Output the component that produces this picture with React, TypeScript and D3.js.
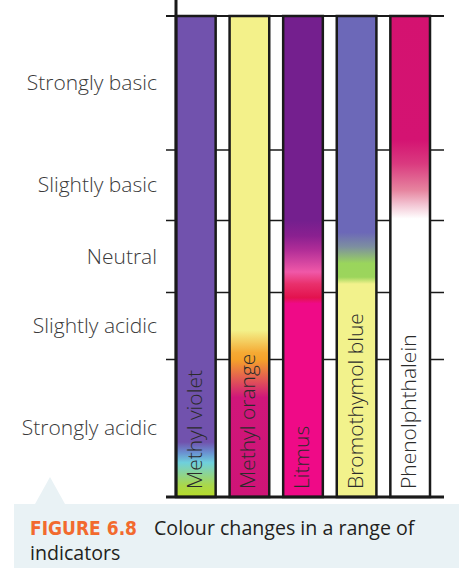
import * as d3 from "d3";
import React, { useEffect, useRef } from "react";

// pH bands, bottom to top
const bands = ["Strongly acidic", "Slightly acidic", "Neutral", "Slightly basic", "Strongly basic"];
const bandEdges = [0, 4, 5.95, 8.05, 10.1, 14];

const indicators = ["Methyl violet", "Methyl orange", "Litmus", "Bromothymol blue", "Phenolphthalein"];

// colour stops per indicator: [pH, colour]
const methylViolet: [number, string][] = [
  [0, "#b9dc28"], [0.35, "#a9d84c"], [1.0, "#6fd0dc"], [1.3, "#6a8fd0"], [1.6, "#7152ad"], [14, "#7152ad"],
];
const methylOrange: [number, string][] = [
  [0, "#cf1477"], [2.9, "#d0167a"], [4.0, "#f5a22a"], [4.2, "#f5aa34"], [4.85, "#f3f18a"], [14, "#f3f18a"],
];
const litmus: [number, string][] = [
  [0, "#ef0a87"], [5.63, "#ef0a87"], [5.8, "#e3124e"], [6.2, "#e9306c"], [6.55, "#f058a8"], [7.2, "#b02d97"],
  [7.6, "#8a2090"], [8.05, "#741f8e"], [14, "#741f8e"],
];
const bromothymol: [number, string][] = [
  [0, "#f2f28c"], [6.2, "#f2f28c"], [6.4, "#9cd55c"], [6.8, "#9ad55c"], [7.28, "#7d8fa0"], [7.7, "#6c68b8"], [14, "#6c68b8"],
];
const phenolphthalein: [number, string][] = [
  [0, "#ffffff"], [8.1, "#ffffff"], [8.5, "#f3c6d4"], [8.93, "#e6849f"], [9.7, "#da3a7f"], [10.4, "#d41372"], [14, "#d41270"],
];
const stops = [methylViolet, methylOrange, litmus, bromothymol, phenolphthalein];

const App: React.FC = () => {
  const ref = useRef<SVGSVGElement>(null);

  useEffect(() => {
    const width = 468;
    const height = 568;
    const svg = d3.select(ref.current);
    svg.selectAll("*").remove();
    svg.attr("width", width).attr("height", height);

    const y = d3.scaleLinear().domain([0, 14]).range([497, 16]);
    const x = d3.scaleBand<string>().domain(indicators).range([176, 430]).paddingInner(0.26);

    const defs = svg.append("defs");
    indicators.forEach((name, i) => {
      const g = defs
        .append("linearGradient")
        .attr("id", "grad" + i)
        .attr("gradientUnits", "userSpaceOnUse")
        .attr("x1", 0)
        .attr("x2", 0)
        .attr("y1", y(0))
        .attr("y2", y(14));
      stops[i].forEach(([ph, c]) => {
        g.append("stop").attr("offset", ph / 14).attr("stop-color", c);
      });
    });

    // band boundary lines
    svg
      .append("g")
      .selectAll("line")
      .data(bandEdges.slice(1, -1))
      .enter()
      .append("line")
      .attr("x1", 166)
      .attr("x2", 444)
      .attr("y1", (d) => y(d))
      .attr("y2", (d) => y(d))
      .attr("stroke", "#1a1a1a")
      .attr("stroke-width", 1.5);

    svg
      .append("line")
      .attr("x1", 166)
      .attr("x2", 444)
      .attr("y1", y(14))
      .attr("y2", y(14))
      .attr("stroke", "#1a1a1a")
      .attr("stroke-width", 2);

    // bars
    svg
      .append("g")
      .selectAll("rect")
      .data(indicators)
      .enter()
      .append("rect")
      .attr("x", (d) => x(d)!)
      .attr("y", y(14))
      .attr("width", x.bandwidth())
      .attr("height", y(0) - y(14))
      .attr("fill", (d, i) => `url(#grad${i})`)
      .attr("stroke", "#1a1a1a")
      .attr("stroke-width", 2.5);

    // bar labels
    svg
      .append("g")
      .selectAll("text")
      .data(indicators)
      .enter()
      .append("text")
      .attr("transform", (d) => `translate(${x(d)! + x.bandwidth() / 2 + 6},489) rotate(-90)`)
      .attr("font-family", "Open Sans")
      .attr("font-weight", 300)
      .attr("font-size", "21px")
      .attr("fill", "#2b2b2b")
      .text((d) => d);

    // axes
    svg
      .append("line")
      .attr("x1", 176)
      .attr("x2", 176)
      .attr("y1", 0)
      .attr("y2", y(0))
      .attr("stroke", "#1a1a1a")
      .attr("stroke-width", 3);
    svg
      .append("line")
      .attr("x1", 166)
      .attr("x2", 444)
      .attr("y1", y(0))
      .attr("y2", y(0))
      .attr("stroke", "#1a1a1a")
      .attr("stroke-width", 3);

    // band labels
    svg
      .append("g")
      .selectAll("text")
      .data(bands)
      .enter()
      .append("text")
      .attr("x", 157)
      .attr("y", (d, i) => (y(bandEdges[i]) + y(bandEdges[i + 1])) / 2 + 7)
      .attr("text-anchor", "end")
      .attr("font-family", "Open Sans")
      .attr("font-weight", 300)
      .attr("font-size", "21px")
      .attr("fill", "#3a3a3a")
      .text((d) => d);

    // caption
    const cap = svg.append("g");
    cap.append("path").attr("d", "M35,504 L50,477 L65,504 Z").attr("fill", "#e9f2f5");
    cap.append("rect").attr("x", 14).attr("y", 504).attr("width", 445).attr("height", 64).attr("fill", "#e9f2f5");
    const t1 = cap
      .append("text")
      .attr("x", 30)
      .attr("y", 535)
      .attr("font-family", "Open Sans")
      .attr("font-size", "19.6px")
      .attr("fill", "#231f20");
    t1.append("tspan")
      .attr("font-family", "DejaVu Sans Condensed")
      .attr("font-weight", "bold")
      .attr("font-size", "19px")
      .attr("fill", "#f26a2e")
      .text("FIGURE 6.8");
    t1.append("tspan").attr("x", 154).text("Colour changes in a range of");
    cap
      .append("text")
      .attr("x", 30)
      .attr("y", 560)
      .attr("font-family", "Open Sans")
      .attr("font-size", "19.6px")
      .attr("fill", "#231f20")
      .text("indicators");
  }, []);

  return <svg ref={ref} style={{ position: "absolute", left: 0, top: 0 }}></svg>;
};

export default App;
